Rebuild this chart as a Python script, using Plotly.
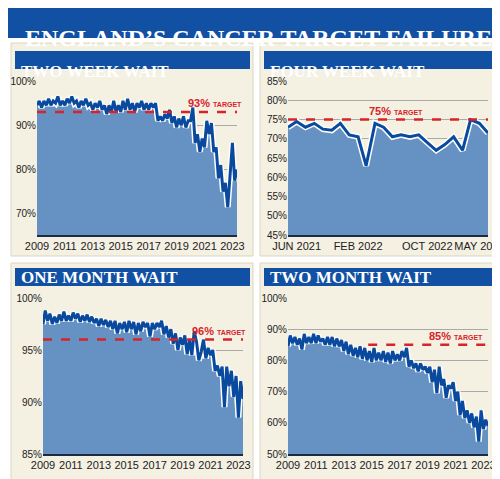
import pandas as pd
import plotly.graph_objects as go

# bi-monthly readings, Jan 2009 - May 2023
months = pd.date_range("2009-01-01", "2023-05-01", freq="2MS")

two_week = [94.5, 95.5, 94, 95.5, 94.5, 96,
            94.5, 95.5, 95, 96.5, 94.5, 95.5,
            94.5, 96, 95, 96.5, 95, 95.5,
            94, 95.5, 94.5, 96, 94.5, 95,
            93.5, 95, 94, 95.5, 93.5, 94.5,
            92.5, 94.5, 93, 95.5, 93, 94.5,
            93, 95.5, 93.5, 96, 93.5, 95,
            93, 95, 94, 95.5, 93.5, 95,
            93.5, 95, 94, 95, 91, 92,
            91, 92.5, 91.5, 93.5, 90.5, 92,
            89.5, 91.5, 90, 92, 89.5, 91,
            91, 94, 86, 88, 84, 87,
            85, 91, 88, 90.5, 84, 85,
            78, 81, 75, 77, 71.5, 78,
            86, 77.5, 80]

one_month = [97.5, 98.8, 97.8, 98.5, 97.5, 98.2,
             97.6, 98.4, 97.8, 98.7, 97.8, 98.3,
             97.8, 98.6, 98, 98.5, 97.7, 98.3,
             97.8, 98.4, 97.7, 98.2, 97.6, 98,
             97.3, 98, 97.4, 97.9, 97.2, 97.8,
             97, 97.8, 96.6, 97.6, 97, 97.7,
             96.7, 97.8, 97, 97.7, 96.5, 97.6,
             96.8, 97.7, 97.2, 97.6, 96.3, 97.6,
             97, 97.6, 97.2, 97.8, 96.5, 97.3,
             96.2, 97, 95.6, 96.6, 95, 96.2,
             95.5, 96.4, 94.6, 96, 94.5, 96.8,
             95.8, 94, 94.8, 96, 94.2, 95.2,
             94.5, 95, 93, 93.5, 92.5, 93.4,
             89.5, 93.4, 91.5, 93, 90.5, 92.5,
             88.5, 92, 90.3]

two_month = [84.5, 88, 85.5, 87.5, 85, 87,
             83.5, 88.5, 85.5, 87.5, 85.5, 88.5,
             85.5, 88, 86, 87, 85, 87.5,
             85, 87.5, 84.5, 87, 84.5, 86.5,
             83, 86, 82, 85, 81.5, 84,
             81, 84.5, 80.5, 84, 80, 83,
             79.5, 84, 80, 82.5, 80, 83,
             79.5, 82.5, 79, 83, 80, 82,
             80, 83, 81, 84, 78, 80,
             77.5, 79, 76.5, 79, 77, 78,
             76, 78, 73, 77, 69.5, 78,
             72, 74, 68, 72, 71, 73,
             67, 70, 62.5, 67, 61.5, 64,
             60, 63, 58.5, 62, 54, 64,
             58, 61, 59]

# monthly, Jun 2021 - May 2023
fw_months = pd.date_range("2021-06-01", "2023-05-01", freq="MS")
four_week = [73, 74.5, 73, 74, 72.5, 72.2, 74, 71, 70.5, 63, 74, 73,
             70.5, 71, 70.5, 71, 69, 67, 68.5, 70.5, 67, 75, 74, 71.5]

years = ["2009", "2011", "2013", "2015", "2017", "2019", "2021", "2023"]
fw_ticks = ["JUN 2021", "FEB 2022", "OCT 2022", "MAY 2023"]

W, H = 500, 479
BLUE = "#1150a3"
FILL = "#6592c2"
RED = "#d8232a"
CREAM = "#f4f0e2"
TICKFONT = "Liberation Sans Narrow, Liberation Sans"


def px_x(p):
    return p / W


def px_y(p):
    return 1 - p / H


fig = go.Figure()

panels = [
    dict(x=months, y=two_week, ax="", title="TWO WEEK WAIT", target=93, tstart=months[0],
         dom=(29, 229, 73, 227), rng=[65.2, 100], dtick=10, box=(3, 245, 35, 248), head=43,
         lab_x=pd.Timestamp("2021-10-01")),
    dict(x=fw_months, y=four_week, ax="2", title="FOUR WEEK WAIT", target=75, tstart=fw_months[0],
         dom=(280, 480, 73, 227), rng=[45, 85], dtick=5, box=(252, 497, 35, 248), head=43,
         lab_x=pd.Timestamp("2022-06-15")),
    dict(x=months, y=one_month, ax="3", title="ONE MONTH WAIT", target=96, tstart=months[0],
         dom=(35, 235, 290, 446), rng=[85, 100], dtick=5, box=(3, 245, 255, 476), head=260,
         lab_x=pd.Timestamp("2021-08-01")),
    dict(x=months, y=two_month, ax="4", title="TWO MONTH WAIT", target=85, tstart=pd.Timestamp("2014-10-01"),
         dom=(280, 480, 290, 446), rng=[50, 100], dtick=10, box=(252, 497, 255, 476), head=260,
         lab_x=pd.Timestamp("2021-01-01")),
]

shapes = [dict(type="rect", xref="paper", yref="paper", x0=0, x1=1, y0=px_y(30), y1=1,
               fillcolor=BLUE, line_width=0, layer="below")]
annotations = [dict(text="<b>ENGLAND’S CANCER TARGET FAILURE</b>", x=0.5, y=px_y(15),
                    xref="paper", yref="paper", showarrow=False,
                    font=dict(family="Liberation Serif", size=24, color="white"))]

for p in panels:
    xa = "x" + p["ax"]
    ya = "y" + p["ax"]
    x0, x1, y0, y1 = p["dom"]
    bx0, bx1, by0, by1 = p["box"]
    shapes.append(dict(type="rect", xref="paper", yref="paper", x0=px_x(bx0), x1=px_x(bx1),
                       y0=px_y(by1), y1=px_y(by0), fillcolor=CREAM,
                       line=dict(color="#ddd6c0", width=1), layer="below"))
    shapes.append(dict(type="rect", xref="paper", yref="paper", x0=px_x(bx0 + 4), x1=px_x(bx1 - 3),
                       y0=px_y(p["head"] + 18), y1=px_y(p["head"]), fillcolor=BLUE,
                       line_width=0, layer="below"))
    annotations.append(dict(text="<b>" + p["title"] + "</b>", x=px_x(bx0 + 8), y=px_y(p["head"] + 9),
                            xref="paper", yref="paper", xanchor="left", showarrow=False,
                            font=dict(family="Liberation Serif", size=17, color="white")))

    fig.add_trace(go.Scatter(x=p["x"], y=p["y"], mode="lines", fill="tozeroy", fillcolor=FILL,
                             line=dict(color="white", width=6), xaxis=xa, yaxis=ya))
    fig.add_trace(go.Scatter(x=p["x"], y=p["y"], mode="lines",
                             line=dict(color="#0a4a9e", width=3), xaxis=xa, yaxis=ya))
    fig.add_trace(go.Scatter(x=[p["tstart"], p["x"][-1]], y=[p["target"]] * 2, mode="lines",
                             line=dict(color=RED, width=2.5, dash="dash"), xaxis=xa, yaxis=ya))
    annotations.append(dict(text="<b>%d%%</b> <span style='font-size:7px'><b>TARGET</b></span>" % p["target"],
                            x=p["lab_x"], y=p["target"], xref=xa, yref=ya, yanchor="bottom",
                            showarrow=False, yshift=1,
                            font=dict(family="Liberation Sans", size=11, color=RED)))

    key = "xaxis" + p["ax"]
    ykey = "yaxis" + p["ax"]
    if p["ax"] == "2":
        xaxis = dict(tickvals=[fw_months[1], fw_months[8], fw_months[16], fw_months[22]],
                     ticktext=fw_ticks)
    else:
        xaxis = dict(tickvals=[pd.Timestamp(y + "-01-01") for y in years], ticktext=years)
    xaxis.update(domain=[px_x(x0), px_x(x1)], anchor=ya, range=[p["x"][0], p["x"][-1]],
                 showgrid=False, showline=True, linecolor="#1c2a44", linewidth=1.5,
                 ticks="", tickangle=0, tickfont=dict(family=TICKFONT, size=11, color="#222"),
                 fixedrange=True)
    fig.layout[key] = xaxis
    fig.layout[ykey] = dict(domain=[px_y(y1), px_y(y0)], anchor=xa, range=p["rng"], dtick=p["dtick"],
                            ticksuffix="%", showgrid=True, gridcolor="#a9a9a9", gridwidth=0.6,
                            zeroline=False, tickfont=dict(family=TICKFONT, size=10, color="#222"))

fig.update_layout(width=W, height=H, margin=dict(l=0, r=0, t=0, b=0, autoexpand=False),
                  showlegend=False, paper_bgcolor="white", plot_bgcolor="rgba(0,0,0,0)",
                  shapes=shapes, annotations=annotations)
fig.write_html("out.html")
